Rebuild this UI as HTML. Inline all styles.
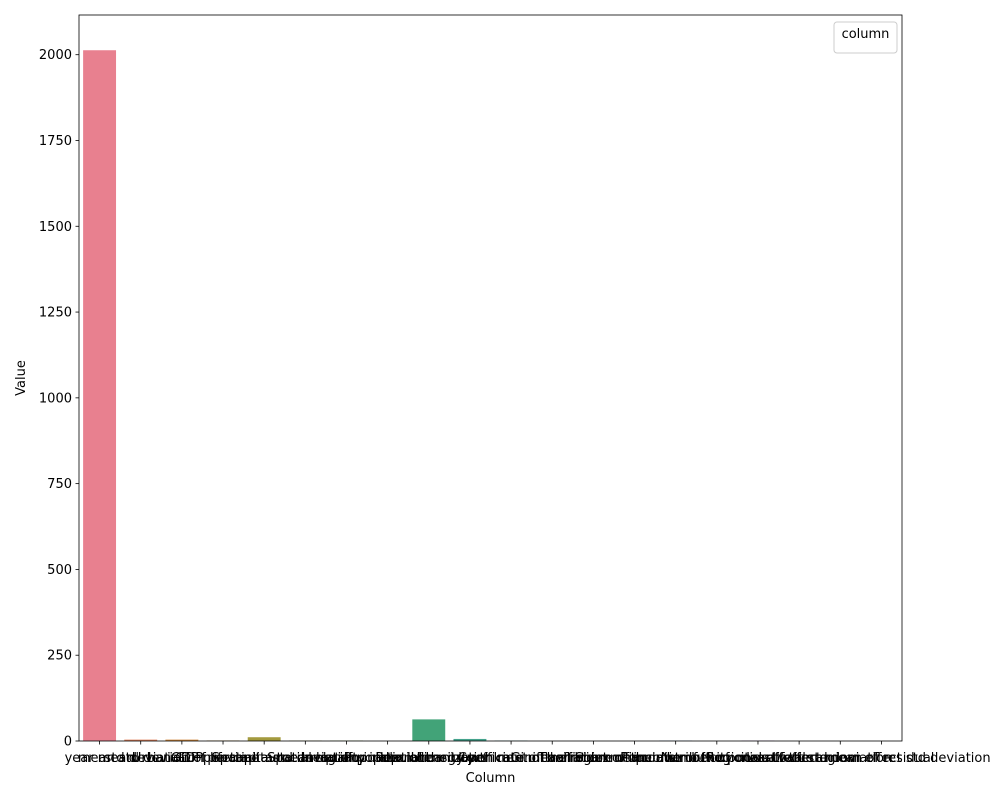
<!DOCTYPE html>
<html><head><meta charset="utf-8"><style>
body{margin:0;background:#fff;}
svg text{font-family:"DejaVu Sans","Liberation Sans",sans-serif;}
</style></head><body>
<svg id="chart" width="1000" height="800" xmlns="http://www.w3.org/2000/svg"></svg>
<script>
const categories = ["year mean","mean std deviation","std deviation of lifetime","Urban GDP per capita mean","GDP per capita std deviation","Spatial autocorrelation index","Spatial lag of population","Inequality index of the city","Population density per km","Population growth rate mean","Urbanization rate of the region","Coefficient of variation mean","Gini coefficient of income","Theil index of the distribution","Share of income of the poorest","Population of city mean value","Number of cities of the region","Regional effect std deviation","Local effect mean of residual","Local random effect std deviation"];
const values = [2013, 4, 4, 1.5, 11, 1, 1, 0, 63, 6, 1, 0, 0, 0, 1, 0, 1, 0, 0, 0];
const colors = ["#e8808f","#e0825c","#d0893c","#b89040","#a39a3e","#8f9f3e","#75a33e","#4aa85a","#42a378","#44a28c","#45a19c","#47a0ab","#4aa0bb","#4f9dce","#6f95d8","#928cd9","#b083d6","#cb7ad0","#dc77b8","#e57aa4"];
const yTicks = [0,250,500,750,1000,1250,1500,1750,2000];

const NS="http://www.w3.org/2000/svg";
const svg=document.getElementById('chart');
const L=79,R=902,T=15,B=741;
const yMax=2000*(B-T)/(B-54.7);
const y=v=>B-v/yMax*(B-T);
const step=(R-L)/categories.length;
const xc=i=>L+step*(i+0.5);
function mk(tag,attrs){const e=document.createElementNS(NS,tag);for(const k in attrs)e.setAttribute(k,attrs[k]);svg.appendChild(e);return e;}

values.forEach((v,i)=>{
  const r=mk('rect',{x:xc(i)-step*0.4,y:y(v),width:step*0.8,height:B-y(v),fill:colors[i]});
  
  
});
yTicks.forEach(t=>{
  const l=mk('line',{x1:L-3.5,x2:L,y1:y(t),y2:y(t),stroke:'#000','stroke-width':0.8});
  
  
  const tx=mk('text',{x:L-7,y:y(t)+4.5,'text-anchor':'end','font-size':13});
  tx.textContent=t;
  
  
});
categories.forEach((c,i)=>{
  const l=mk('line',{x1:xc(i),x2:xc(i),y1:B,y2:B+3.5,stroke:'#000','stroke-width':0.8});
  
  
  const tx=mk('text',{x:xc(i),y:B+21,'text-anchor':'middle','font-size':13});
  tx.textContent=c;
  
  
});
const frame=mk('rect',{x:L,y:T,width:R-L,height:B-T,fill:'none',stroke:'#000','stroke-width':0.8});


const yl=mk('text',{x:25,y:(T+B)/2,'text-anchor':'middle','font-size':13,transform:`rotate(-90 25 ${(T+B)/2})`});
yl.textContent='Value';


const xl=mk('text',{x:(L+R)/2,y:782,'text-anchor':'middle','font-size':13});
xl.textContent='Column';


const lg=mk('rect',{x:834,y:22,width:63,height:31,rx:3,fill:'#fff',stroke:'#ccc','stroke-width':1});


const lt=mk('text',{x:865.5,y:38,'text-anchor':'middle','font-size':13});
lt.textContent='column';


</script>
</body></html>
